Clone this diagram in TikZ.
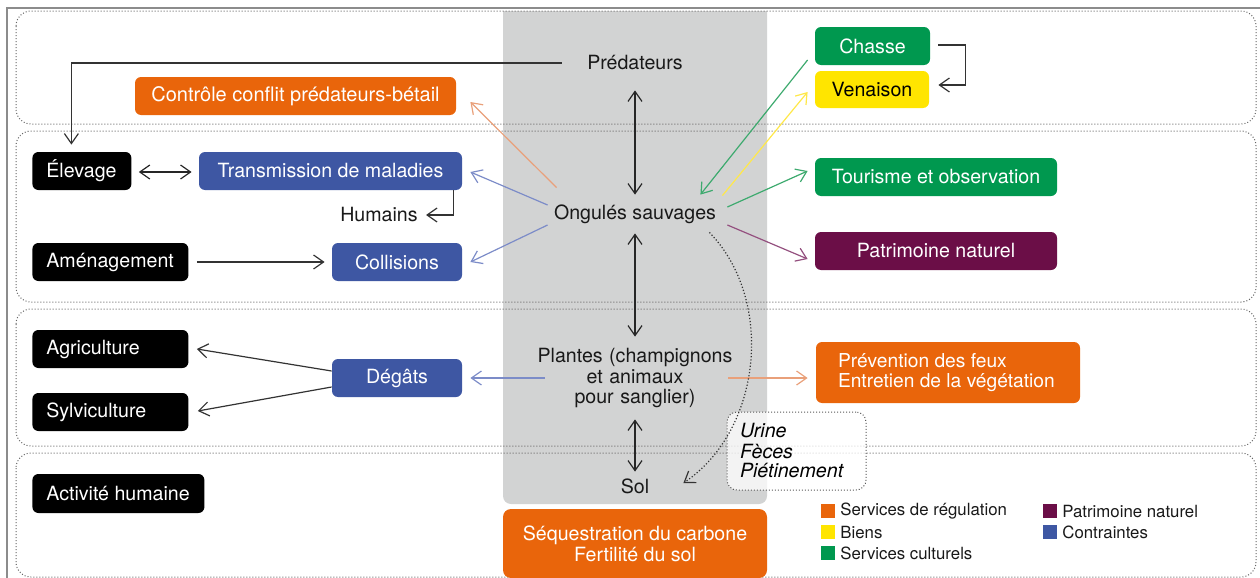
\documentclass[tikz,border=0pt]{standalone}
\usepackage{fontspec}
\setmainfont{TeX Gyre Heros}
\usetikzlibrary{arrows.meta,calc}
\definecolor{cOr}{HTML}{E9650B}
\definecolor{cGr}{HTML}{00984F}
\definecolor{cYe}{HTML}{FFE500}
\definecolor{cPu}{HTML}{6B0E47}
\definecolor{cBl}{HTML}{3E57A3}
\definecolor{cCol}{HTML}{D2D3D3}
\definecolor{aSal}{HTML}{E9A07A}
\definecolor{aBl}{HTML}{7C8CC8}
\definecolor{aGr}{HTML}{3DAA6E}
\definecolor{aYe}{HTML}{FFE84A}
\definecolor{aPu}{HTML}{94507F}
\newcommand\lbx[2]{\makebox[#1][l]{#2}}
\begin{document}
\begin{tikzpicture}[x=0.5pt,y=-0.5pt,
  font=\fontsize{9.8}{10.3}\selectfont,
  >={Straight Barb[length=5pt,width=7pt]},
  cbx/.style={rounded corners=3pt, inner sep=0pt, minimum height=19pt, text=white, align=center, fill=#1},
  bbx/.style={rounded corners=3pt, fill=black, text=white, inner xsep=7pt, inner ysep=0pt, minimum height=19pt, anchor=west},
  lbl/.style={inner sep=0pt, text=black!90},
  con/.style={->, line width=0.6pt, draw=black!80},
  dcon/.style={<->, line width=0.6pt, draw=black!85},
  band/.style={draw=black!60, densely dotted, line width=0.5pt, rounded corners=7.5pt},
  lsq/.style={fill=#1, minimum width=7pt, minimum height=7pt, inner sep=0pt},
  ltx/.style={anchor=west, inner sep=0pt, font=\fontsize{8.4}{9}\selectfont, text=black!90}
]
\useasboundingbox (0,0) rectangle (1260,578);
% gray column
\begin{scope}
\clip (0,11) rectangle (1260,600);
\fill[cCol, rounded corners=4pt] (503,0) rectangle (767,504);
\end{scope}
% outer frame
\draw[black!45, line width=1pt] (7,578) -- (7,7.5) -- (1260,7.5);
% bands
\draw[band] (16,11) rectangle (1256,124);
\draw[band] (16,131) rectangle (1256,302);
\draw[band] (16,309) rectangle (1256,446);
\draw[band] (16,453) rectangle (1256,577);

% central labels
\node[lbl, minimum width=73pt, minimum height=27pt] (pred) at (635,63) {Prédateurs};
\node[lbl, minimum width=90pt, minimum height=19pt] (ong) at (635,214) {Ongulés sauvages};
\node[lbl, text width=98pt, minimum height=41pt, align=center] (pl) at (635,378) {Plantes (champignons\\et animaux\\pour sanglier)};
\node[lbl, minimum width=30pt, minimum height=14pt] (sol) at (635,486) {Sol};
\node[lbl] (hum) at (379,215) {Humains};

% coloured boxes
\node[cbx=cOr, minimum width=160.5pt, font=\fontsize{10}{10.3}\selectfont] (ctrl) at (295.5,96) {Contrôle conflit prédateurs-bétail};
\node[cbx=cGr, minimum width=57.5pt] (chasse) at (872.5,46) {Chasse};
\node[cbx=cYe, text=black, minimum width=57pt, minimum height=18.5pt] (ven) at (872,89.5) {Venaison};
\node[cbx=cGr, minimum width=121pt] (tour) at (936,177) {Tourisme et observation};
\node[cbx=cPu, minimum width=121pt] (pat) at (936,251) {Patrimoine naturel};
\node[cbx=cBl, minimum width=131.5pt] (trans) at (330.5,171) {Transmission de maladies};
\node[cbx=cBl, minimum width=65pt] (coll) at (397,262) {Collisions};
\node[cbx=cBl, minimum width=65pt] (deg) at (397,378) {Dégâts};
\node[cbx=cOr, minimum width=132pt, minimum height=30.5pt, font=\fontsize{9.6}{10}\selectfont] (prev) at (948,372.5) {\lbx{110pt}{Prévention des feux}\\\lbx{110pt}{Entretien de la végétation}};
\node[cbx=cOr, minimum width=132pt, minimum height=34.5pt, rounded corners=4pt, font=\fontsize{9.8}{10.6}\selectfont] (seq) at (635,543.5) {Séquestration du carbone\\Fertilité du sol};

% black boxes
\node[bbx] (elev) at (32,171) {\lbx{35.5pt}{Élevage}};
\node[bbx] (amen) at (32,262) {\lbx{64pt}{Aménagement}};
\node[bbx] (agri) at (32,349) {\lbx{64pt}{Agriculture}};
\node[bbx] (sylv) at (32,412) {\lbx{64pt}{Sylviculture}};
\node[bbx, minimum height=19.5pt] (act) at (32,493.5) {\lbx{72pt}{Activité humaine}};

% urine box
\node[draw=black!65, densely dotted, line width=0.5pt, fill=white, fill opacity=0.75, text opacity=1, rounded corners=5pt, minimum width=69.5pt, minimum height=39pt, text width=56.5pt, inner xsep=6.5pt, inner ysep=0pt, align=left, font=\fontsize{9.8}{10}\selectfont\itshape] (urine) at (796.5,451) {Urine\\Fèces\\Piétinement};

% legend
\node[lsq=cOr] (lq1) at (828,511) {};
\node[ltx] (lt1) at (840,511) {Services de régulation};
\node[lsq=cYe] (lq2) at (828,532) {};
\node[ltx] (lt2) at (840,532) {Biens};
\node[lsq=cGr] (lq3) at (828,553) {};
\node[ltx] (lt3) at (840,553) {Services culturels};
\node[lsq=cPu] (lq4) at (1050,511) {};
\node[ltx] (lt4) at (1062,511) {Patrimoine naturel};
\node[lsq=cBl] (lq5) at (1050,532) {};
\node[ltx] (lt5) at (1062,532) {Contraintes};

% connectors
\draw[dcon] (pred.south) -- (ong.north);
\draw[dcon] (ong.south) -- (pl.north);
\draw[dcon] (pl.south) -- (sol.north);
\draw[con] (pred.west) -| ($(elev.north)+(-10.5,-7)$);
\draw[dcon] ($(elev.east)+(7,1)$) -- ($(trans.west)+(-7,1)$);
\draw[con] ($(trans.south east)+(-9,0)$) |- ($(hum.east)+(8,0)$);
\draw[con] ($(amen.east)+(8,0)$) -- ($(coll.west)+(-7,0)$);
\draw[con] ($(deg.west)+(0,-7)$) -- ($(agri.east)+(8,0)$);
\draw[con] ($(deg.west)+(0,9)$) -- ($(sylv.east)+(9,-1)$);
\draw[con] ($(chasse.east)+(8,-1)$) -- ++(27,0) |- ($(ven.east)+(9,-4.5)$);

\draw[con, draw=aSal] ($(ong.north west)+(12,-7)$) -- ($(ctrl.east)+(14,6)$);
\draw[con, draw=aBl] ($(ong.west)+(3,-9)$) -- ($(trans.east)+(8,1)$);
\draw[con, draw=aBl] ($(ong.west)+(3,11)$) -- ($(coll.east)+(8,0)$);
\draw[con, draw=aGr] ($(chasse.west)+(-7,14)$) -- ($(ong.north east)+(-25,0)$);
\draw[con, draw=aYe] ($(ong.north east)+(-3,1)$) -- ($(ven.west)+(-7,2.5)$);
\draw[con, draw=aGr] ($(ong.east)+(2,-7)$) -- ($(tour.west)+(-7,-6)$);
\draw[con, draw=aPu] ($(ong.east)+(2,11)$) -- ($(pat.west)+(-7,8)$);
\draw[con, draw=aBl] ($(pl.west)+(8,0)$) -- ($(deg.east)+(8,0)$);
\draw[con, draw=aSal] ($(pl.east)+(-5,0)$) -- ($(prev.west)+(-8,5.5)$);
\draw[con, densely dotted] ($(ong.south east)+(-16,-1)$) .. controls (775,300) and (762,430) .. ($(sol.east)+(18,-3)$);
\end{tikzpicture}
\end{document}
